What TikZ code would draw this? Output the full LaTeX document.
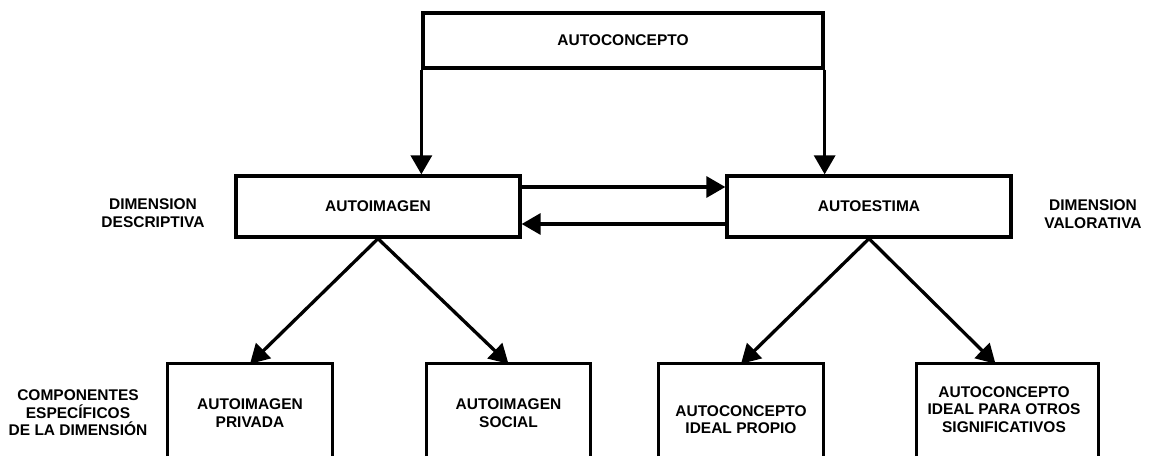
\documentclass[tikz,border=0pt]{standalone}
\usepackage{fontspec}
\setmainfont{Liberation Sans}
\usetikzlibrary{arrows.meta}
\newcommand\lblfont{\fontsize{15.5}{17.5}\selectfont\bfseries}
\begin{document}
\begin{tikzpicture}[x=1pt,y=-1pt,
  box/.style={draw,line width=3.3pt,rectangle,inner sep=0pt,font=\lblfont},
  openbox/.style={rectangle,inner sep=0pt,minimum height=92pt},
  side/.style={line width=3.3pt,line join=miter},
  lbl/.style={font=\lblfont,align=center,inner sep=0pt},
  arr/.style={line width=3.3pt,-{Triangle[length=19pt,width=21pt]}}]
\useasboundingbox (0,0) rectangle (1149,456);

% main boxes
\node[box,minimum width=400pt,minimum height=55pt] (top) at (623,40.5) {AUTOCONCEPTO};
\node[box,minimum width=284pt,minimum height=61pt] (img) at (378,206.5) {AUTOIMAGEN};
\node[box,minimum width=284pt,minimum height=61pt] (est) at (869,206.5) {AUTOESTIMA};

% side labels
\node[lbl] (dd) at (153,213) {DIMENSION\\DESCRIPTIVA};
\node[lbl] (dv) at (1093,214) {DIMENSION\\VALORATIVA};
\node[lbl] (ce) at (78,413) {COMPONENTES\\ESPECÍFICOS\\DE LA DIMENSIÓN};

% component boxes (open at the bottom)
\node[openbox,minimum width=164pt] (b1) at (250,410) {};
\node[openbox,minimum width=163pt] (b2) at (508.5,410) {};
\node[openbox,minimum width=164pt] (b3) at (741,410) {};
\node[openbox,minimum width=181pt] (b4) at (1007.5,410) {};
\foreach \b in {b1,b2,b3,b4}
  \draw[side] (\b.south west) -- (\b.north west) -- (\b.north east) -- (\b.south east);

\node[lbl] (t1) at (250,413) {AUTOIMAGEN\\PRIVADA};
\node[lbl] (t2) at (508.5,413) {AUTOIMAGEN\\SOCIAL};
\node[lbl] (t3) at (741,419.5) {AUTOCONCEPTO\\IDEAL PROPIO};
\node[lbl] (t4) at (1004,409.5) {AUTOCONCEPTO\\IDEAL PARA OTROS\\SIGNIFICATIVOS};

% connectors
\draw[arr] (top.south west) -- (top.south west |- img.north);
\draw[arr] (top.south east) -- (top.south east |- est.north);
\draw[arr] ([yshift=19.5pt]img.east) -- ([yshift=19.5pt]est.west);
\draw[arr] ([yshift=-17.5pt]est.west) -- ([yshift=-17.5pt]img.east);
\draw[arr] (img.south) -- (b1.north);
\draw[arr] (img.south) -- (b2.north);
\draw[arr] (est.south) -- (b3.north);
\draw[arr] (est.south) -- ([xshift=-12pt]b4.north);
\end{tikzpicture}
\end{document}
